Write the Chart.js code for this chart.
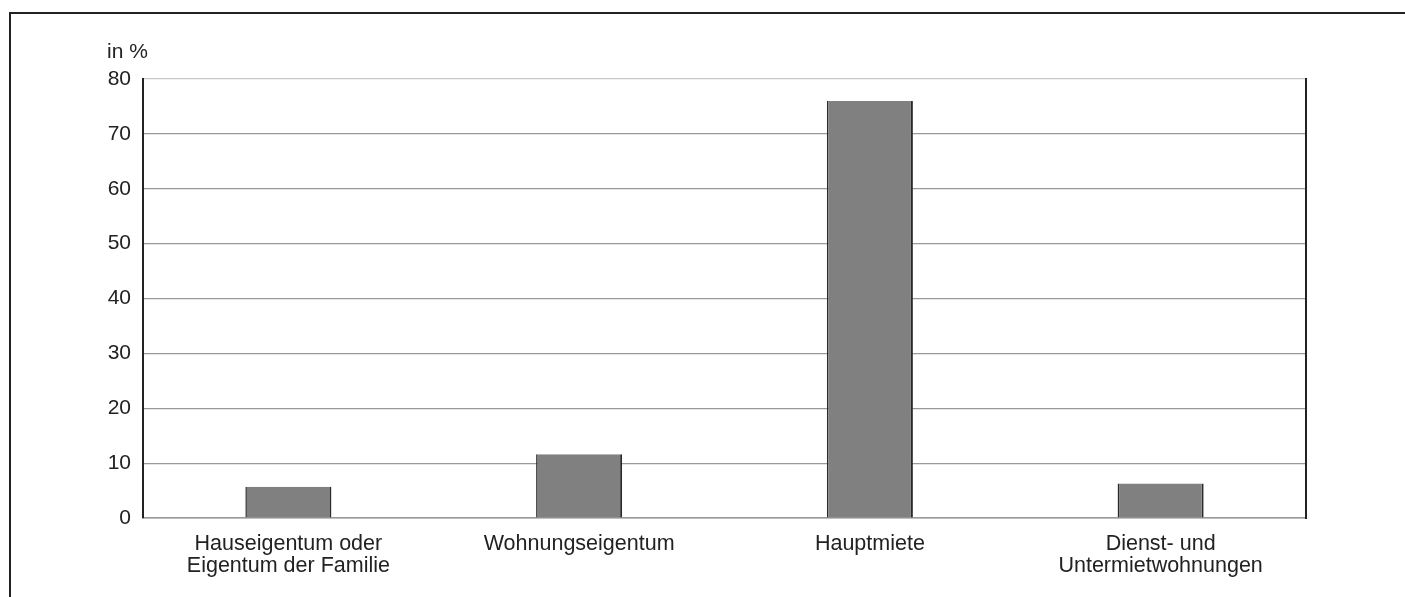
<!DOCTYPE html>
<html>
<head>
<meta charset="utf-8">
<script src="https://cdn.jsdelivr.net/npm/chart.js@4"></script>
<style>
  body { margin: 0; background: #fff; }
  #frame { position: absolute; left: 9px; top: 12px; width: 1400px; height: 590px;
           border-top: 2px solid #222; border-left: 2px solid #222; }
  #wrap { position: absolute; left: 0; top: 0; width: 1405px; height: 597px; }
</style>
</head>
<body>
<div id="frame"></div>
<div id="wrap"><canvas id="myChart"></canvas></div>
<script>
// Wohnverhältnisse, Anteile in %
const categories = [
    ["Hauseigentum oder", "Eigentum der Familie"],
    "Wohnungseigentum",
    "Hauptmiete",
    ["Dienst- und", "Untermietwohnungen"]
];
const values = [5.7, 11.6, 76.0, 6.3];
const yTicks = [0, 10, 20, 30, 40, 50, 60, 70, 80];
const unitLabel = "in %";

const fontFamily = "'Liberation Sans', Arial, Helvetica, sans-serif";

const unitPlugin = {
    id: 'unitLabel',
    afterDraw(chart) {
        const ctx = chart.ctx;
        const area = chart.chartArea;
        ctx.save();
        ctx.font = "21px " + fontFamily;
        ctx.fillStyle = "#222";
        ctx.textAlign = "left";
        ctx.textBaseline = "middle";
        ctx.fillText(unitLabel, area.left - 36, area.top - 27);
        ctx.restore();
    }
};

function showChart() {
    const data = {
        labels: categories,
        datasets: [{
            label: unitLabel,
            data: values,
            backgroundColor: '#808080',
            borderColor: '#2a2a2a',
            borderWidth: {left: 1.5, right: 2, top: 0, bottom: 0},
            barPercentage: 0.296,
            categoryPercentage: 1
        }]
    };

    new Chart(document.getElementById("myChart"), {
        type: 'bar',
        data: data,
        plugins: [unitPlugin],
        options: {
            responsive: true,
            maintainAspectRatio: false,
            animation: false,
            layout: {padding: {top: 79, right: 99, left: 0, bottom: 0}},
            plugins: {legend: {display: false}, tooltip: {enabled: false}},
            scales: {
                x: {
                    grid: {display: false},
                    border: {display: true, color: '#999', width: 1.5},
                    ticks: {
                        color: '#222',
                        padding: 7,
                        maxRotation: 0,
                        autoSkip: false,
                        font: {family: fontFamily, size: 21.5, lineHeight: 1.03}
                    },
                    afterFit(scale) { scale.height = 79; }
                },
                y: {
                    min: 0,
                    max: 80,
                    afterBuildTicks(scale) { scale.ticks = yTicks.map(v => ({value: v})); },
                    grid: {
                        color: c => (c.tick && c.tick.value === 80) ? '#c8c8c8' : '#999',
                        lineWidth: 1.2,
                        drawTicks: false
                    },
                    border: {display: true, color: '#222', width: 2},
                    ticks: {
                        color: '#222',
                        padding: 12,
                        font: {family: fontFamily, size: 21}
                    },
                    afterFit(scale) { scale.width = 143; }
                },
                y2: {
                    position: 'right',
                    min: 0,
                    max: 80,
                    grid: {display: false, drawTicks: false},
                    border: {display: true, color: '#222', width: 2},
                    ticks: {display: false},
                    afterFit(scale) { scale.width = 0; }
                }
            }
        }
    });
}

showChart();
</script>
</body>
</html>
